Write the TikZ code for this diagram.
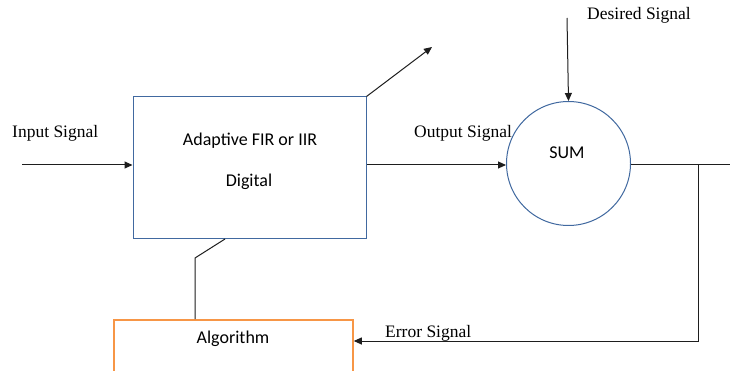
\documentclass[tikz,border=0pt]{standalone}
\usepackage{fontspec}
\setmainfont{Liberation Serif}
\newfontfamily\calfont{Carlito}
\usetikzlibrary{arrows.meta}
\definecolor{boxblue}{RGB}{65,105,160}
\definecolor{algorange}{RGB}{247,150,70}
\definecolor{linegray}{RGB}{30,30,30}
\tikzset{
  x=1pt, y=-1pt,
  conn/.style={draw=linegray, line width=1pt},
  arr/.style={conn, -{Triangle[length=8pt,width=7pt]}},
  lbl/.style={font=\fontsize{17.5}{20}\selectfont, inner sep=0pt},
  clbl/.style={font=\calfont\fontsize{18}{21}\selectfont, inner sep=0pt},
  filt/.style={draw=boxblue, line width=1pt, minimum width=233pt, minimum height=142pt, inner sep=0pt},
  sumc/.style={draw=boxblue, line width=1pt, circle, minimum size=124pt, inner sep=0pt},
  algbox/.style={draw=algorange, line width=1.6pt, minimum width=239pt, minimum height=80pt, inner sep=0pt}
}
\begin{document}
\begin{tikzpicture}
\useasboundingbox (0,0) rectangle (730,371);
\fill[white] (0,0) rectangle (730,371);
\node[filt] (F) at (249.5,168) {};
\node[clbl] (t1) at (250,141) {Adaptive FIR or IIR};
\node[clbl] (t2) at (249,182) {Digital};
\node[sumc] (S) at (568.5,163.5) {};
\node[clbl] (sumt) at (567,153) {SUM};
\node[algbox] (A) at (233.5,360) {};
\node[clbl] (algt) at (233,339) {Algorithm};
\node[lbl, anchor=west] (inl) at (12,133) {Input Signal};
\node[lbl, anchor=west] (outl) at (414,133) {Output Signal};
\node[lbl, anchor=west] (desl) at (587,15) {Desired Signal};
\node[lbl, anchor=west] (errl) at (385,333) {Error Signal};
\coordinate (inS) at (22,165);
\coordinate (diagE) at (432,47);
\coordinate (desS) at (567,18);
\coordinate (outE) at (742,165);
\coordinate (tap) at (698,165);
\coordinate (fb) at (698,341);
\coordinate (errE) at (354,341);
\coordinate (bend) at (195,258);
\coordinate (ftop) at (225,239);
\coordinate (atop) at (195,320);
\draw[arr] (inS) -- (F.west |- inS);
\draw[arr] (F.north east) -- (diagE);
\draw[arr] (F.east |- 0,165) -- (S.west |- 0,165);
\draw[arr] (desS) -- (S.north);
\draw[arr] (S.east |- 0,165) -- (outE);
\draw[arr] (tap) -- (fb) -- (A.east |- fb);
\draw[conn] (A.north -| atop) -- (bend) -- (ftop);
\end{tikzpicture}
\end{document}
